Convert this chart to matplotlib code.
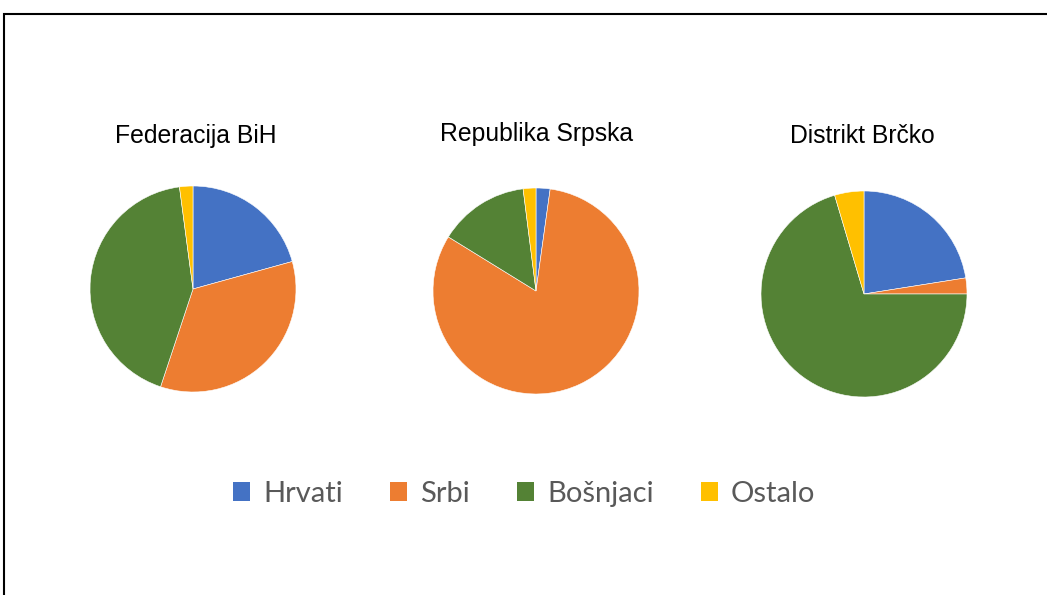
import matplotlib.pyplot as plt
from matplotlib.patches import Rectangle, Patch

regions = ["Federacija BiH", "Republika Srpska", "Distrikt Brčko"]
groups = ["Hrvati", "Srbi", "Bošnjaci", "Ostalo"]
fbih = [20.7, 34.4, 42.8, 2.1]
rs = [2.2, 81.6, 14.2, 2.0]
brcko = [22.5, 2.5, 70.4, 4.6]
colors = ["#4472C4", "#ED7D31", "#548235", "#FFC000"]

W, H = 1047, 595
fig = plt.figure(figsize=(W / 100, H / 100), dpi=100)

# pie centres / radius in pixels, title positions
centres = [(193, 289), (536, 291), (864, 294)]
title_pos = [(196, 136), (537, 134), (862, 136)]
r = 103

for name, vals, (cx, cy), (tx, ty) in zip(regions, [fbih, rs, brcko], centres, title_pos):
    ax = fig.add_axes([(cx - r) / W, 1 - (cy + r) / H, 2 * r / W, 2 * r / H])
    ax.pie(vals, colors=colors, startangle=90, counterclock=False,
           wedgeprops=dict(edgecolor="white", linewidth=0.4))
    ax.set_xlim(-1, 1)
    ax.set_ylim(-1, 1)
    fig.text(tx / W, 1 - ty / H, name, ha="center", va="center",
             fontsize=17.8, family="Liberation Sans", color="black")

handles = [Patch(facecolor=c, edgecolor="none") for c in colors]
fig.legend(handles, groups, loc="center", bbox_to_anchor=(524 / W, 1 - 494 / H),
           ncol=4, frameon=False, handlelength=0.6, handleheight=0.6,
           handletextpad=0.45, columnspacing=1.6,
           prop=dict(family="Lato", size=21), labelcolor="#595959")

fig.add_artist(Rectangle((4 / W, -0.1), 1.1, 1.1 - 14 / H, transform=fig.transFigure,
                         fill=False, edgecolor="black", linewidth=1.5))

fig.savefig("out.png", dpi=100)
